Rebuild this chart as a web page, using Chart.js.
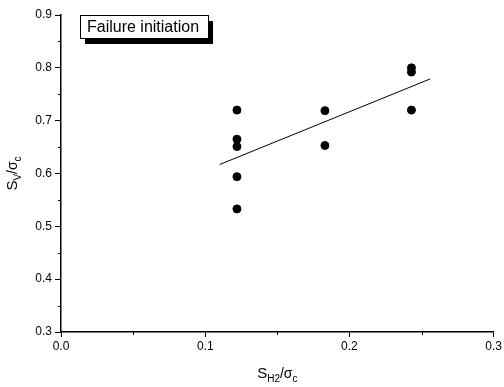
<!DOCTYPE html>
<html>
<head>
<meta charset="utf-8">
<script src="https://cdn.jsdelivr.net/npm/chart.js@4/dist/chart.umd.min.js"></script>
<style>
  html, body { margin: 0; padding: 0; background: #fff; }
  #chart { display: block; }
</style>
</head>
<body>
<canvas id="chart" width="504" height="387"></canvas>
<script>
// Dane
const pointX = [0.122, 0.122, 0.122, 0.122, 0.122, 0.183, 0.183, 0.243, 0.243, 0.243];
const pointY = [0.720, 0.665, 0.651, 0.594, 0.533, 0.719, 0.653, 0.800, 0.792, 0.720];
const fitX = [0.110, 0.256];
const fitY = [0.617, 0.779];
const xRange = [0.0, 0.3];
const yRange = [0.3, 0.9];
const legendText = 'Failure initiation';

const FONT = '"Liberation Sans", Arial, sans-serif';

// Tekst z indeksami dolnymi (S_V / sigma_c)
function drawRich(ctx, parts, x, y) {
    let total = 0;
    parts.forEach(p => {
        ctx.font = p.size + 'px ' + FONT;
        p.w = ctx.measureText(p.t).width;
        total += p.w;
    });
    let cx = x - total / 2;
    ctx.textBaseline = 'alphabetic';
    ctx.textAlign = 'left';
    parts.forEach(p => {
        ctx.font = p.size + 'px ' + FONT;
        ctx.fillText(p.t, cx, y + (p.sub ? 4 : 0));
        cx += p.w;
    });
}

const decorations = {
    id: 'decorations',
    afterDraw(chart) {
        const ctx = chart.ctx;
        const xs = chart.scales.x;
        const ys = chart.scales.y;
        ctx.save();
        ctx.fillStyle = '#000';
        ctx.strokeStyle = '#000';
        ctx.lineWidth = 1;

        // Podziałki pomocnicze
        ctx.beginPath();
        for (let v = 0.05; v < 0.3; v += 0.1) {
            const px = Math.round(xs.getPixelForValue(v)) + 0.5;
            ctx.moveTo(px, xs.top);
            ctx.lineTo(px, xs.top + 3);
        }
        for (let v = 0.35; v < 0.9; v += 0.1) {
            const py = Math.round(ys.getPixelForValue(v)) + 0.5;
            ctx.moveTo(ys.right, py);
            ctx.lineTo(ys.right - 3, py);
        }
        ctx.stroke();

        // Tytuły osi
        drawRich(ctx, [
            { t: 'S', size: 15 },
            { t: 'H2', size: 10, sub: true },
            { t: '/', size: 14 },
            { t: 'σ', size: 14 },
            { t: 'c', size: 10, sub: true }
        ], (xs.left + xs.right) / 2, 378);

        ctx.save();
        ctx.translate(17, (ys.top + ys.bottom) / 2);
        ctx.rotate(-Math.PI / 2);
        drawRich(ctx, [
            { t: 'S', size: 15 },
            { t: 'V', size: 10, sub: true },
            { t: '/', size: 14 },
            { t: 'σ', size: 14 },
            { t: 'c', size: 10, sub: true }
        ], 0, 0);
        ctx.restore();

        // Legenda z cieniem
        const bx = 80, by = 15, bw = 128, bh = 23;
        ctx.fillRect(bx + 5, by + 6, bw, bh);
        ctx.fillStyle = '#fff';
        ctx.fillRect(bx, by, bw, bh);
        ctx.strokeRect(bx + 0.5, by + 0.5, bw, bh);
        ctx.fillStyle = '#000';
        ctx.font = '16px ' + FONT;
        ctx.textAlign = 'left';
        ctx.textBaseline = 'middle';
        ctx.fillText(legendText, bx + 7, by + bh / 2 + 1);
        ctx.restore();
    }
};

const tickFont = { family: FONT, size: 12 };

new Chart(document.getElementById('chart'), {
    type: 'scatter',
    data: {
        datasets: [{
            label: 'Failure initiation',
            data: pointX.map((x, i) => ({ x: x, y: pointY[i] })),
            backgroundColor: '#000',
            borderColor: '#000',
            pointRadius: 4,
            pointHoverRadius: 4
        }, {
            label: 'fit',
            type: 'line',
            data: fitX.map((x, i) => ({ x: x, y: fitY[i] })),
            borderColor: '#000',
            borderWidth: 1,
            pointRadius: 0,
            fill: false
        }]
    },
    options: {
        responsive: false,
        animation: false,
        layout: { padding: { left: 0, right: 8, top: 15, bottom: 0 } },
        plugins: {
            legend: { display: false },
            tooltip: { enabled: false }
        },
        scales: {
            x: {
                type: 'linear',
                min: xRange[0],
                max: xRange[1],
                afterFit: s => { s.height = 55; },
                ticks: {
                    stepSize: 0.1,
                    color: '#000',
                    font: tickFont,
                    padding: 2,
                    callback: v => v.toFixed(1)
                },
                grid: { drawOnChartArea: false, tickLength: 5, color: '#000' },
                border: { color: '#000', width: 1.5 }
            },
            y: {
                type: 'linear',
                min: yRange[0],
                max: yRange[1],
                afterFit: s => { s.width = 61; },
                ticks: {
                    stepSize: 0.1,
                    color: '#000',
                    font: tickFont,
                    padding: 3,
                    callback: v => v.toFixed(1)
                },
                grid: { drawOnChartArea: false, tickLength: 6, color: '#000' },
                border: { color: '#000', width: 1.5 }
            }
        }
    },
    plugins: [decorations]
});
</script>
</body>
</html>
